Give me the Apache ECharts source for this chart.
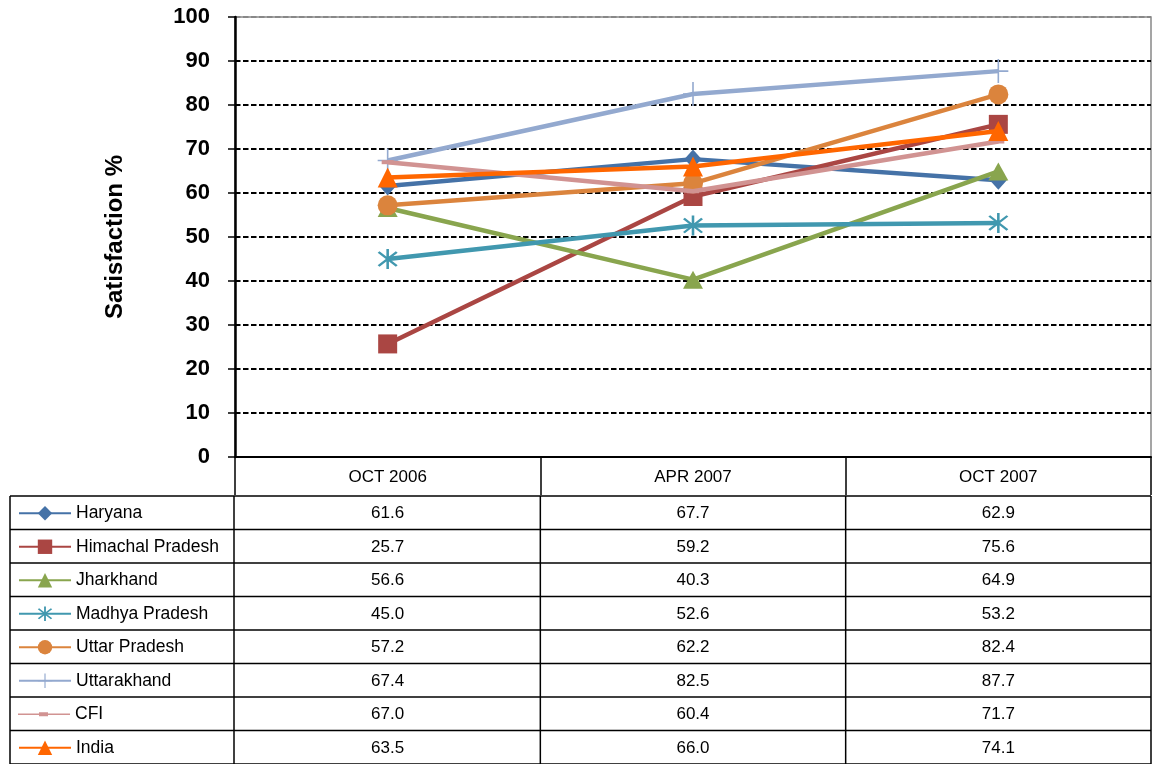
<!DOCTYPE html>
<html><head><meta charset="utf-8">
<script src="https://cdn.jsdelivr.net/npm/echarts@6/dist/echarts.min.js"></script>
<style>html,body{margin:0;padding:0;background:#fff}#c{width:1154px;height:764px}</style>
</head><body><div id="c"></div>
<script>
var categories = ['OCT 2006', 'APR 2007', 'OCT 2007'];
var seriesNames = ['Haryana', 'Himachal Pradesh', 'Jharkhand', 'Madhya Pradesh', 'Uttar Pradesh', 'Uttarakhand', 'CFI', 'India'];
var haryana = [61.6, 67.7, 62.9];
var himachal = [25.7, 59.2, 75.6];
var jharkhand = [56.6, 40.3, 64.9];
var madhya = [45.0, 52.6, 53.2];
var uttar = [57.2, 62.2, 82.4];
var uttarakhand = [67.4, 82.5, 87.7];
var cfi = [67.0, 60.4, 71.7];
var india = [63.5, 66.0, 74.1];
var yTicks = [0, 10, 20, 30, 40, 50, 60, 70, 80, 90, 100];

var allData = [haryana, himachal, jharkhand, madhya, uttar, uttarakhand, cfi, india];
var colors = ['#4572A7', '#AA4643', '#89A54E', '#4198AF', '#DB843D', '#93A9CF', '#D19392', '#FF6600'];
var FONT = '"Liberation Sans", Arial, sans-serif';

function rotRect(len, th, ang) {
  var c = Math.cos(ang), s = Math.sin(ang);
  var pts = [[-th, -len], [th, -len], [th, len], [-th, len]];
  return 'M' + pts.map(function (p) {
    return (p[0] * c - p[1] * s).toFixed(2) + ',' + (p[0] * s + p[1] * c).toFixed(2);
  }).join('L') + 'Z';
}
var asterisk = 'path://' + rotRect(10, 1, 0) + rotRect(10, 1, Math.PI / 4) + rotRect(10, 1, -Math.PI / 4);
var plus = 'path://M-0.8,-12L0.8,-12L0.8,-0.8L10,-0.8L10,0.8L0.8,0.8L0.8,12L-0.8,12L-0.8,0.8L-10,0.8L-10,-0.8L-0.8,-0.8Z';

var symbols = ['diamond', 'rect', 'triangle', asterisk, 'circle', plus, 'rect', 'triangle'];
var symbolSizes = [[17, 19], 19, [20, 18], [20, 20], 20, [20, 24], [12, 4], [20, 20]];

var chart = echarts.init(document.getElementById('c'), null, {renderer: 'canvas'});

var gridLeft = 235, gridRight = 1151, gridTop = 17, gridBottom = 457;
var tableTop = 496, rowH = 33.5, tableLeft = 10;
var colW = (gridRight - gridLeft) / categories.length;

var graphics = [];
for (var r = 0; r <= seriesNames.length; r++) {
  var y = tableTop + r * rowH;
  graphics.push({type: 'line', shape: {x1: tableLeft, y1: y, x2: gridRight, y2: y}, style: {stroke: '#000', lineWidth: 1.5}, z: 10});
}
var vx = [tableLeft, gridLeft - 1];
for (var k = 1; k <= categories.length; k++) vx.push(gridLeft + k * colW);
vx.forEach(function (x) {
  graphics.push({type: 'line', shape: {x1: x, y1: tableTop, x2: x, y2: 764}, style: {stroke: '#000', lineWidth: 1.5}, z: 10});
});
allData.forEach(function (arr, i) {
  arr.forEach(function (v, j) {
    graphics.push({type: 'text', x: gridLeft + (j + 0.5) * colW, y: tableTop + (i + 0.5) * rowH + 1,
      style: {text: v.toFixed(1), font: '17px ' + FONT, fill: '#000', textAlign: 'center', textVerticalAlign: 'middle'}, z: 11});
  });
});

var series = seriesNames.map(function (n, i) {
  return {
    name: n, type: 'line', data: allData[i],
    symbol: symbols[i], symbolSize: symbolSizes[i], symbolKeepAspect: false,
    lineStyle: {color: colors[i], width: 4.5},
    itemStyle: {color: colors[i]},
    z: 2 + i, animation: false
  };
});

var legendItemH = 18;
var legends = seriesNames.map(function (n, i) {
  var d = {name: n};
  if (n === 'CFI') d.icon = 'path://M0,7.2L52,7.2L52,8.8L0,8.8Z M21,6L30,6L30,10L21,10Z';
  return {
    orient: 'vertical', left: 18, top: tableTop + i * rowH + (rowH - legendItemH) / 2 + 0.5, padding: 0,
    itemWidth: 52, itemHeight: legendItemH,
    data: [d],
    lineStyle: {width: 2},
    textStyle: {fontSize: 17.5, fontFamily: FONT, color: '#000'},
    selectedMode: false
  };
});

chart.setOption({
  animation: false,
  color: colors,
  grid: {left: gridLeft, right: 1154 - gridRight, top: gridTop, bottom: 764 - gridBottom, containLabel: false,
    show: true, borderColor: '#888', borderWidth: 1.5},
  legend: legends,
  xAxis: {
    type: 'category', data: categories, boundaryGap: true,
    axisLine: {lineStyle: {color: '#000', width: 2}},
    axisTick: {show: true, length: 38, lineStyle: {color: '#000', width: 1.5}},
    axisLabel: {margin: 12, fontSize: 17, color: '#000', fontFamily: FONT}
  },
  yAxis: {
    type: 'value', min: yTicks[0], max: yTicks[yTicks.length - 1], interval: 10,
    name: 'Satisfaction %', nameLocation: 'middle', nameGap: 108, nameRotate: 90,
    nameTextStyle: {fontSize: 24, fontWeight: 'bold', color: '#000', fontFamily: FONT, padding: [0, 0, 0, 0]},
    axisLine: {show: true, lineStyle: {color: '#000', width: 2.5}},
    axisTick: {show: true, length: 7, lineStyle: {color: '#000', width: 1.5}},
    axisLabel: {margin: 25, fontSize: 22, fontWeight: 'bold', color: '#000', fontFamily: FONT, padding: [5, 0, 0, 0]},
    splitLine: {show: true, lineStyle: {color: ['#000', '#000', '#000', '#000', '#000', '#000', '#000', '#000', '#000', '#000', '#888'], type: [5.5, 2.5], width: 2}}
  },
  graphic: graphics,
  series: series
});
</script></body></html>
